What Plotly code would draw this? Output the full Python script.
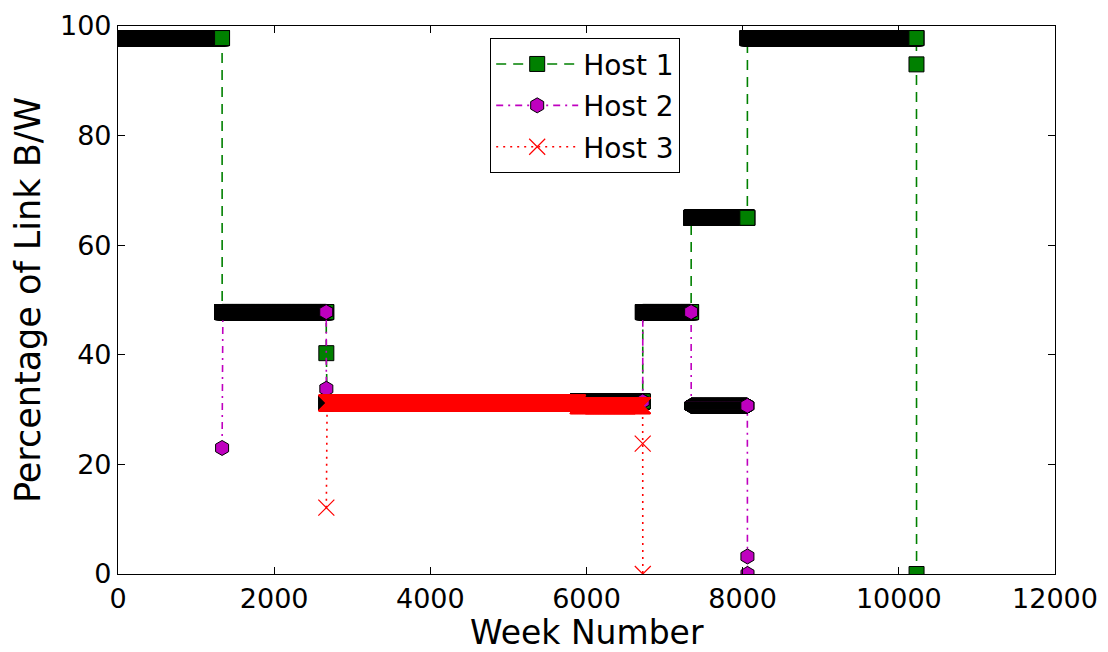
import numpy as np
import plotly.graph_objects as go

# Per-host bandwidth share, stored as constant runs: [first week, last week, % of link]
h1_run_start = [1, 1334, 2668, 2669, 5890, 6721, 7341, 8061, 10226, 10227]
h1_run_end = [1333, 2667, 2668, 5889, 6720, 7340, 8060, 10225, 10226, 10227]
h1_run_value = [97.8, 47.8, 40.3, 31.2, 31.5, 47.8, 65.0, 97.8, 93.0, 0.0]

h2_run_start = [1333, 1334, 2668, 2669, 5890, 6721, 7341, 8061, 8062]
h2_run_end = [1333, 2667, 2668, 5889, 6720, 7340, 8060, 8061, 8062]
h2_run_value = [23.0, 47.8, 33.8, 31.2, 31.5, 47.8, 30.7, 3.2, 0.0]

h3_run_start = [2668, 2669, 5890, 6720, 6721]
h3_run_end = [2668, 5889, 6719, 6720, 6721]
h3_run_value = [12.1, 31.2, 30.7, 23.8, 0.0]

x_ticks = [0, 2000, 4000, 6000, 8000, 10000, 12000]
y_ticks = [0, 20, 40, 60, 80, 100]


def expand_runs(starts, ends, values):
    weeks, pct = [], []
    for s, e, v in zip(starts, ends, values):
        w = np.arange(s, e + 1)
        weeks.append(w)
        pct.append(np.full(w.shape, v, dtype=float))
    return np.concatenate(weeks), np.concatenate(pct)


FONT = "DejaVu Sans"
fig = go.Figure()

w1, p1 = expand_runs(h1_run_start, h1_run_end, h1_run_value)
w2, p2 = expand_runs(h2_run_start, h2_run_end, h2_run_value)
w3, p3 = expand_runs(h3_run_start, h3_run_end, h3_run_value)

fig.add_trace(go.Scatter(
    x=w1, y=p1, mode="lines+markers", name="Host 1", legendgroup="h1",
    line=dict(color="#008000", width=1.6, dash="10px,7px"),
    marker=dict(symbol="square", size=15, color="#008000",
                line=dict(color="black", width=1)),
))
fig.add_trace(go.Scatter(
    x=w2, y=p2, mode="lines+markers", name="Host 2", legendgroup="h2",
    line=dict(color="#bf00bf", width=1.6, dash="7px,5px,2px,5px"),
    marker=dict(symbol="hexagon", size=15, color="#bf00bf",
                line=dict(color="black", width=1)),
))
fig.add_trace(go.Scatter(
    x=w3, y=p3, mode="lines+markers", name="Host 3", legendgroup="h3",
    line=dict(color="#ff0000", width=1.6, dash="2px,5px"),
    marker=dict(symbol="x-thin", size=16, color="#ff0000",
                line=dict(color="#ff0000", width=1.2)),
))

axis_common = dict(
    showgrid=False, zeroline=False, showline=True, linecolor="black",
    linewidth=1.2, mirror="ticks", ticks="inside", ticklen=7,
    tickwidth=1, tickcolor="black", automargin=False,
    tickfont=dict(family=FONT, size=27, color="black"),
)

fig.update_layout(
    width=1108, height=652,
    margin=dict(l=118, r=53, t=26, b=78),
    paper_bgcolor="white", plot_bgcolor="white",
    font=dict(family=FONT, color="black"),
    xaxis=dict(range=[0, 12000], tickvals=x_ticks,
               ticktext=[str(v) for v in x_ticks],
               **axis_common),
    yaxis=dict(range=[0, 100], tickvals=y_ticks,
               ticktext=[str(v) for v in y_ticks],
               title=dict(text="Percentage of Link B/W", font=dict(size=35), standoff=8),
               **axis_common),
    legend=dict(x=0.397, y=0.978, xanchor="left", yanchor="top",
                bordercolor="black", borderwidth=1.2, bgcolor="white",
                font=dict(family=FONT, size=28), itemwidth=82,
                traceorder="grouped", tracegroupgap=2),
    showlegend=True,
)

# x-axis title placed below the tick labels
fig.add_annotation(
    text="Week Number", xref="paper", yref="paper", x=0.5, y=-0.1068,
    xanchor="center", yanchor="middle", showarrow=False,
    font=dict(family=FONT, size=33, color="black"),
)

fig.write_html("out.html")
